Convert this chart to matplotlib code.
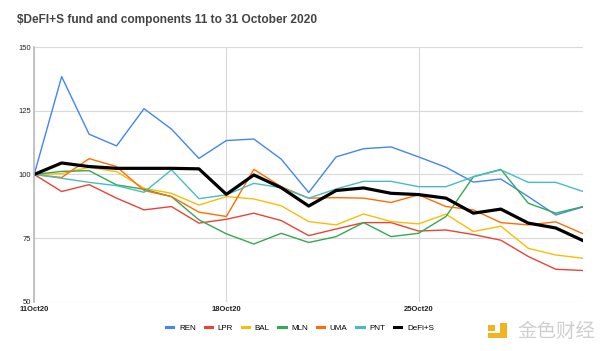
import numpy as np
import matplotlib.pyplot as plt
from matplotlib.patches import Rectangle

plt.rcParams['font.family'] = ['Liberation Sans', 'DejaVu Sans']

days = list(range(11, 32))
tick_days = [11, 18, 25]
tick_labels = ["11Oct20", "18Oct20", "25Oct20"]

ren = [100, 138.4, 115.8, 111.2, 125.8, 117.8, 106.3, 113.3, 113.9, 106.0, 92.9,
       106.9, 110.1, 110.8, 106.9, 102.8, 97.0, 98.2, 91.3, 84.1, 87.3]
lpr = [100, 93.3, 96.0, 90.7, 86.1, 87.4, 80.9, 82.4, 84.8, 81.9, 76.0,
       78.6, 81.1, 81.1, 77.8, 78.2, 76.4, 74.2, 67.8, 62.8, 62.3]
bal = [100, 100.3, 102.8, 101.1, 94.6, 92.6, 88.0, 91.3, 90.4, 87.7, 81.5,
       80.2, 84.5, 81.5, 80.6, 84.4, 77.6, 79.7, 71.0, 68.4, 67.1]
mln = [100, 101.2, 101.5, 95.9, 94.2, 91.3, 82.2, 76.7, 72.7, 76.9, 73.3,
       75.6, 81.1, 75.6, 76.9, 83.5, 99.1, 102.0, 88.7, 84.8, 87.4]
uma = [100, 98.8, 106.2, 103.1, 93.7, 91.3, 85.2, 83.5, 102.0, 95.2, 90.7,
       90.9, 90.7, 89.0, 92.0, 87.4, 86.1, 81.1, 80.2, 81.4, 76.7]
pnt = [100, 98.5, 96.9, 95.6, 93.0, 101.8, 90.5, 92.0, 96.5, 94.8, 90.7,
       94.3, 97.3, 97.3, 95.2, 95.2, 99.1, 101.8, 96.9, 96.9, 93.3]
defi = [100, 104.5, 103.1, 102.4, 102.4, 102.4, 102.2, 92.2, 99.8, 94.8, 87.6,
        93.7, 94.7, 92.6, 92.1, 90.7, 84.8, 86.4, 80.9, 79.0, 74.0]

series = [("REN", ren, "#4285F4"), ("LPR", lpr, "#EA4335"), ("BAL", bal, "#FBBC04"),
          ("MLN", mln, "#34A853"), ("UMA", uma, "#FF6D01"), ("PNT", pnt, "#46BDC6")]

fig = plt.figure(figsize=(6, 3.51), dpi=100)
ax = fig.add_axes([0.057, 0.14, 0.915, 0.726])

for name, vals, col in series:
    ax.plot(days, vals, color=col, lw=1.0, label=name)
ax.plot(days, defi, color="black", lw=2.3, label="DeFi+S")

ax.set_xlim(11, 31)
ax.set_ylim(50, 150)
ax.set_yticks([50, 75, 100, 125, 150])
ax.set_xticks(tick_days)
ax.set_xticklabels(tick_labels, fontweight="bold")
ax.tick_params(axis="both", length=0, labelsize=5.5, colors="#222222")
ax.tick_params(axis="y", pad=2)
ax.tick_params(axis="x", pad=3)
ax.grid(True, color="#d9d9d9", lw=0.8)
ax.set_axisbelow(True)
for s in ["top", "right", "bottom"]:
    ax.spines[s].set_visible(False)
ax.spines["left"].set_color("#bbbbbb")
ax.spines["left"].set_linewidth(1.2)

fig.text(0.028, 0.943, "$DeFI+S fund and components 11 to 31 October 2020",
         fontsize=8.6, fontweight="bold", color="#444444", va="center")

leg = fig.legend(loc="center", bbox_to_anchor=(0.5, 0.066), ncol=7, frameon=False,
                 fontsize=5.8, handlelength=0.9, handletextpad=0.7, columnspacing=1.1)
for h in leg.get_lines():
    h.set_linewidth(2.2)

# watermark
yellow = "#F2B320"
fig.patches.append(Rectangle((488 / 600, 1 - 331 / 351), 7 / 600, 6 / 351,
                             transform=fig.transFigure, facecolor=yellow, edgecolor="none"))
fig.patches.append(Rectangle((500 / 600, 1 - 338 / 351), 7 / 600, 15 / 351,
                             transform=fig.transFigure, facecolor=yellow, edgecolor="none"))
fig.patches.append(Rectangle((488 / 600, 1 - 338 / 351), 19 / 600, 5 / 351,
                             transform=fig.transFigure, facecolor=yellow, edgecolor="none"))
fig.text(517 / 600, 1 - 331 / 351, "金色财经", fontsize=14, color="#cfcfcf", va="center",
         family=["Noto Sans CJK SC", "DejaVu Sans"])

fig.savefig("out.png", dpi=100)
